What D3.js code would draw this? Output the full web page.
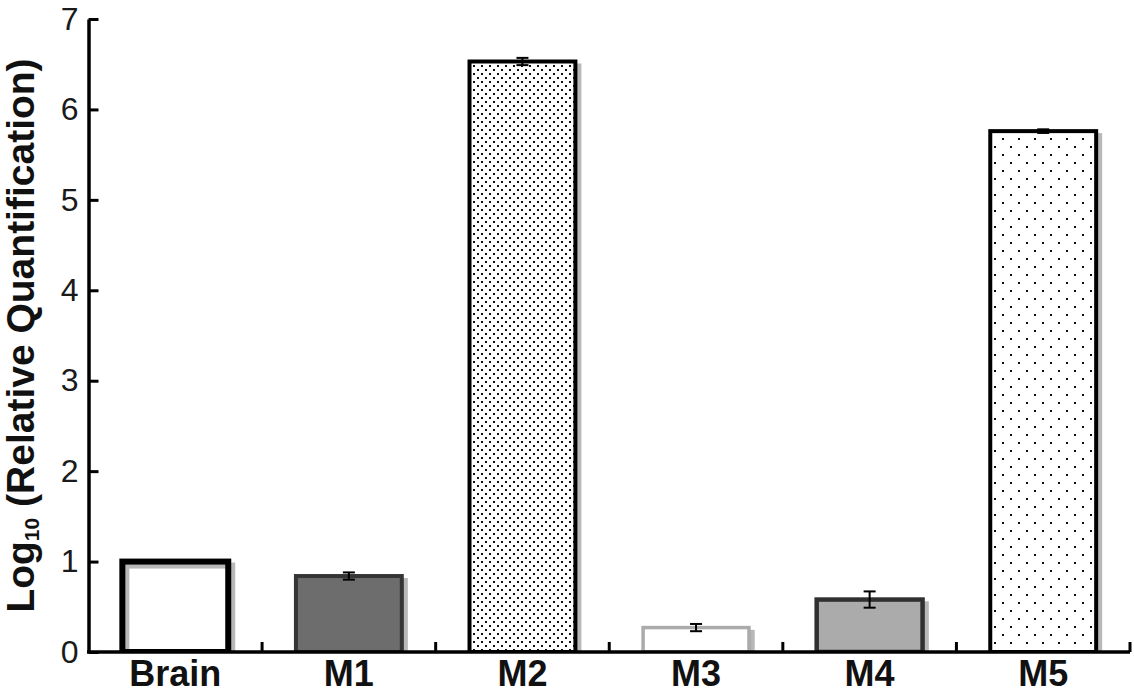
<!DOCTYPE html>
<html>
<head>
<meta charset="utf-8">
<script src="https://cdn.jsdelivr.net/npm/d3@7"></script>
<style>
  html, body { margin: 0; padding: 0; background: #fff; }
  svg { display: block; font-family: "Liberation Sans", Arial, Helvetica, sans-serif; }
</style>
</head>
<body>
<svg id="chart" width="1134" height="695"></svg>
<script>
// ---- data ----
const categories = ["Brain", "M1", "M2", "M3", "M4", "M5"];
const values     = [1.00, 0.84, 6.53, 0.27, 0.58, 5.76];
const errors     = [0.00, 0.04, 0.04, 0.04, 0.09, 0.02];
const yTickValues = [0, 1, 2, 3, 4, 5, 6, 7];
const yTitleMain = "Log";
const yTitleSub = "10";
const yTitleRest = " (Relative Quantification)";

// ---- styles (separate from data) ----
const barStyles = {
  Brain: { fill: "none",            stroke: "#000",    sw: 6 },
  M1:    { fill: "#6d6d6d",         stroke: "#353535", sw: 4 },
  M2:    { fill: "url(#dense)",     stroke: "#000",    sw: 4 },
  M3:    { fill: "#fff",            stroke: "#ababab", sw: 3.5 },
  M4:    { fill: "#ababab",         stroke: "#303030", sw: 4.5 },
  M5:    { fill: "url(#sparse)",    stroke: "#000",    sw: 4 }
};

const svg = d3.select("#chart");
const width = 1134, height = 695;
const margin = { left: 88.5, right: 4, top: 19, bottom: 43 };

const x = d3.scaleBand()
  .domain(categories)
  .range([margin.left, width - margin.right])
  .paddingInner(0.39)
  .paddingOuter(0.195);

const y = d3.scaleLinear()
  .domain([0, 7])
  .range([height - margin.bottom, margin.top]);

// patterns
const defs = svg.append("defs");
const dense = defs.append("pattern").attr("id", "dense")
  .attr("patternUnits", "userSpaceOnUse").attr("width", 8).attr("height", 8);
dense.append("rect").attr("width", 8).attr("height", 8).attr("fill", "#fff");
dense.append("rect").attr("x", 1).attr("y", 1).attr("width", 2).attr("height", 2).attr("fill", "#111");
dense.append("rect").attr("x", 5).attr("y", 5).attr("width", 2).attr("height", 2).attr("fill", "#111");

const sparse = defs.append("pattern").attr("id", "sparse")
  .attr("patternUnits", "userSpaceOnUse").attr("width", 16).attr("height", 16);
sparse.append("rect").attr("width", 16).attr("height", 16).attr("fill", "#fff");
sparse.append("rect").attr("x", 2).attr("y", 2).attr("width", 2).attr("height", 2).attr("fill", "#111");
sparse.append("rect").attr("x", 10).attr("y", 10).attr("width", 2).attr("height", 2).attr("fill", "#111");

defs.append("clipPath").attr("id", "plotclip")
  .append("rect")
  .attr("x", 0).attr("y", 0)
  .attr("width", width).attr("height", y(0));

const data = categories.map((c, i) => ({ cat: c, v: values[i], e: errors[i] }));

const plot = svg.append("g").attr("clip-path", "url(#plotclip)");

// shadows
plot.append("g").selectAll("rect").data(data).join("rect")
  .attr("x", d => x(d.cat) + 4)
  .attr("y", d => y(d.v) + 4)
  .attr("width", x.bandwidth())
  .attr("height", d => y(0) - y(d.v))
  .attr("fill", d => barStyles[d.cat].fill === "none" ? "none" : "#b0b0b0")
  .attr("stroke", "#b8b8b8")
  .attr("stroke-width", d => barStyles[d.cat].sw);

// bars
plot.append("g").selectAll("rect").data(data).join("rect")
  .attr("x", d => x(d.cat))
  .attr("y", d => y(d.v))
  .attr("width", x.bandwidth())
  .attr("height", d => y(0) - y(d.v))
  .attr("fill", d => barStyles[d.cat].fill)
  .attr("stroke", d => barStyles[d.cat].stroke)
  .attr("stroke-width", d => barStyles[d.cat].sw);

// error bars
const eb = svg.append("g").attr("stroke", "#000").attr("stroke-width", 2)
  .selectAll("g").data(data.filter(d => d.e > 0)).join("g");
const cx = d => x(d.cat) + x.bandwidth() / 2;
eb.append("line")
  .attr("x1", cx).attr("x2", cx)
  .attr("y1", d => y(d.v + d.e)).attr("y2", d => y(d.v - d.e));
eb.append("line")
  .attr("x1", d => cx(d) - 6).attr("x2", d => cx(d) + 6)
  .attr("y1", d => y(d.v + d.e)).attr("y2", d => y(d.v + d.e));
eb.append("line")
  .attr("x1", d => cx(d) - 6).attr("x2", d => cx(d) + 6)
  .attr("y1", d => y(d.v - d.e)).attr("y2", d => y(d.v - d.e));

// y axis
const yAxis = d3.axisLeft(y)
  .tickValues(yTickValues)
  .tickFormat(d3.format("d"))
  .tickSizeInner(-10)
  .tickSizeOuter(0)
  .tickPadding(10);
const gy = svg.append("g").attr("transform", `translate(${margin.left},0)`).call(yAxis);
gy.select(".domain").attr("stroke", "#000").attr("stroke-width", 3.5);
gy.selectAll(".tick line").attr("stroke", "#000").attr("stroke-width", 3);
gy.selectAll(".tick text")
  .attr("font-size", 32)
  .attr("fill", "#1a1a1a")
  .attr("font-family", "'Liberation Sans', Arial, sans-serif");

// x axis line
const [x0, x1] = x.range();
svg.append("line")
  .attr("x1", x0 - 1.5).attr("x2", x1)
  .attr("y1", y(0)).attr("y2", y(0))
  .attr("stroke", "#000").attr("stroke-width", 3.5);

// x boundary ticks
svg.append("g").selectAll("line")
  .data(d3.range(1, categories.length + 1))
  .join("line")
  .attr("x1", i => x0 + i * x.step()).attr("x2", i => x0 + i * x.step())
  .attr("y1", y(0)).attr("y2", y(0) - 10)
  .attr("stroke", "#000").attr("stroke-width", 3);

// x labels
svg.append("g").selectAll("text").data(categories).join("text")
  .attr("x", d => x(d) + x.bandwidth() / 2)
  .attr("y", 686)
  .attr("text-anchor", "middle")
  .attr("font-size", 36)
  .attr("font-weight", "bold")
  .attr("fill", "#111")
  .text(d => d);

// y title
const title = svg.append("text")
  .attr("transform", `translate(34,${(y(0) + y(7)) / 2 + 0}) rotate(-90)`)
  .attr("text-anchor", "middle")
  .attr("font-size", 39)
  .attr("font-weight", "bold")
  .attr("fill", "#111");
title.append("tspan").text(yTitleMain);
title.append("tspan").attr("font-size", 21).attr("dy", 5).text(yTitleSub);
title.append("tspan").attr("dy", -5).text(yTitleRest);
</script>
</body>
</html>
